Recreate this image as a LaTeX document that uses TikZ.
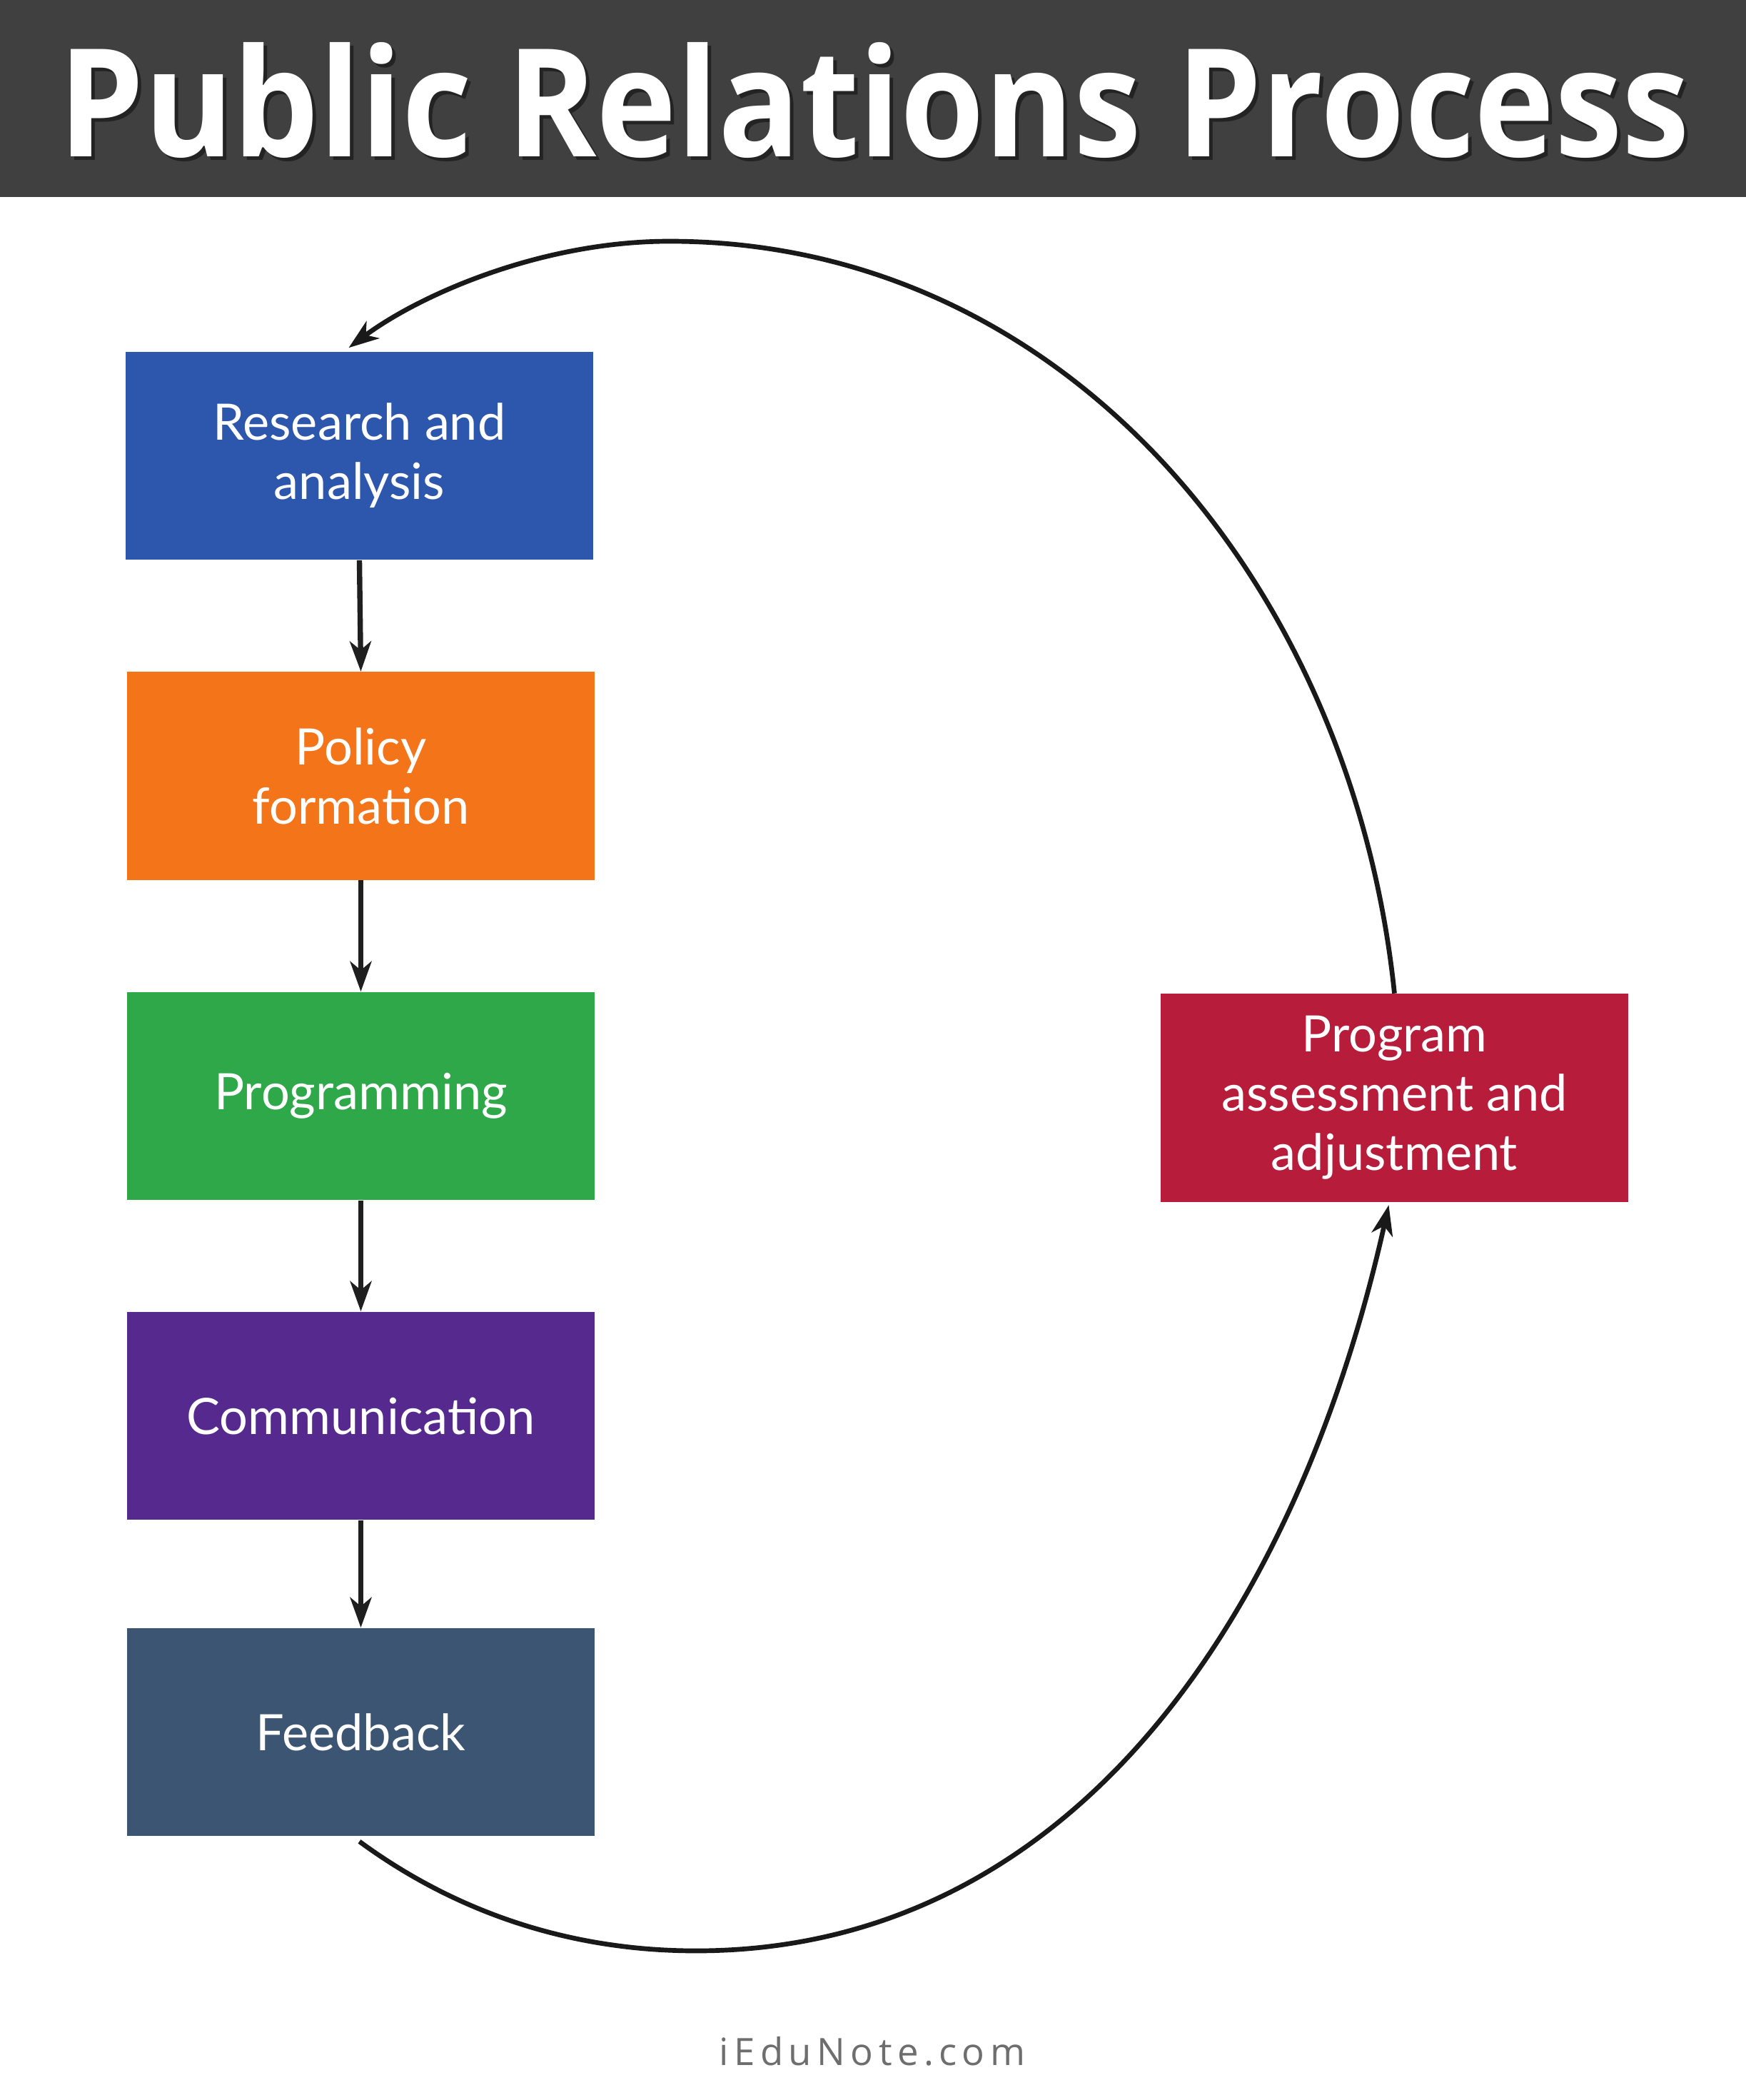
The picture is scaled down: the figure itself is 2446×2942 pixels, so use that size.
\documentclass[tikz,border=0pt]{standalone}
\usepackage{fontspec}
\setmainfont{Lato}
\newfontfamily\titlefont{Open Sans}
\usetikzlibrary{arrows.meta,calc}
\definecolor{barbg}{HTML}{404040}
\definecolor{cres}{HTML}{2D57AC}
\definecolor{cpol}{HTML}{F37419}
\definecolor{cprg}{HTML}{2EA849}
\definecolor{ccom}{HTML}{55298D}
\definecolor{cfb}{HTML}{3B5573}
\definecolor{cass}{HTML}{B71C3B}
\definecolor{wmgray}{HTML}{6E6E6E}
\tikzset{
  stepbox/.style={rectangle, inner sep=0pt, minimum width=6.55cm, minimum height=2.91cm,
    text=white, align=center, font=\fontsize{20}{23.6}\selectfont},
  vconn/.style={line width=2.1pt, draw=black!88, -{Stealth[length=12pt,width=8.5pt,inset=3.5pt]}},
  loopconn/.style={line width=1.9pt, draw=black!90, -{Stealth[length=12pt,width=8.5pt,inset=3.5pt]}},
}
\begin{document}
\begin{tikzpicture}[x=0.01cm,y=-0.01cm]
\useasboundingbox (0,0) rectangle (2446,2942);
\fill[white] (0,0) rectangle (2446,2942);
% title bar
\fill[barbg] (0,0) rectangle (2446,276);
\node[anchor=base, text=black, opacity=0.45, inner sep=0] (titleshadow) at (1230,224)
  {\resizebox{22.83cm}{1.6cm}{\titlefont\bfseries Public Relations Process}};
\node[anchor=base, text=white, inner sep=0] (title) at (1225,219)
  {\resizebox{22.83cm}{1.6cm}{\titlefont\bfseries Public Relations Process}};
% boxes
\node[stepbox, fill=cres] (res) at (503.5,638.5) {Research and\\analysis};
\node[stepbox, fill=cpol] (pol) at (505.5,1087) {Policy\\formation};
\node[stepbox, fill=cprg] (prg) at (505.5,1535.5) {Programming};
\node[stepbox, fill=ccom] (com) at (505.5,1983.5) {Communication};
\node[stepbox, fill=cfb] (fb) at (505.5,2426.5) {Feedback};
\node[stepbox, fill=cass] (ass) at (1953.5,1538) {Program\\assessment and\\adjustment};
% vertical arrows
\draw[vconn] (res.south) -- (pol.north);
\draw[vconn] (pol.south) -- (prg.north);
\draw[vconn] (prg.south) -- (com.north);
\draw[vconn] (com.south) -- (fb.north);
% loop
\draw[loopconn] ($(fb.south)+(-2,7)$) .. controls (640,2680) and (800,2733) .. (975,2733)
  .. controls (1510,2733) and (1820,2250) .. ($(ass.south)+(-8,4)$);
\draw[loopconn] (ass.north) .. controls (1895,825) and (1497,338) .. (938,338)
  .. controls (758,338) and (588,413) .. ($(res.north)+(-15,-5)$);
% watermark
\node[anchor=base, text=wmgray, inner sep=0] (wm) at (1222,2893)
  {\titlefont\fontsize{15}{18}\selectfont\addfontfeature{LetterSpace=14}iEduNote.com};
\end{tikzpicture}
\end{document}
